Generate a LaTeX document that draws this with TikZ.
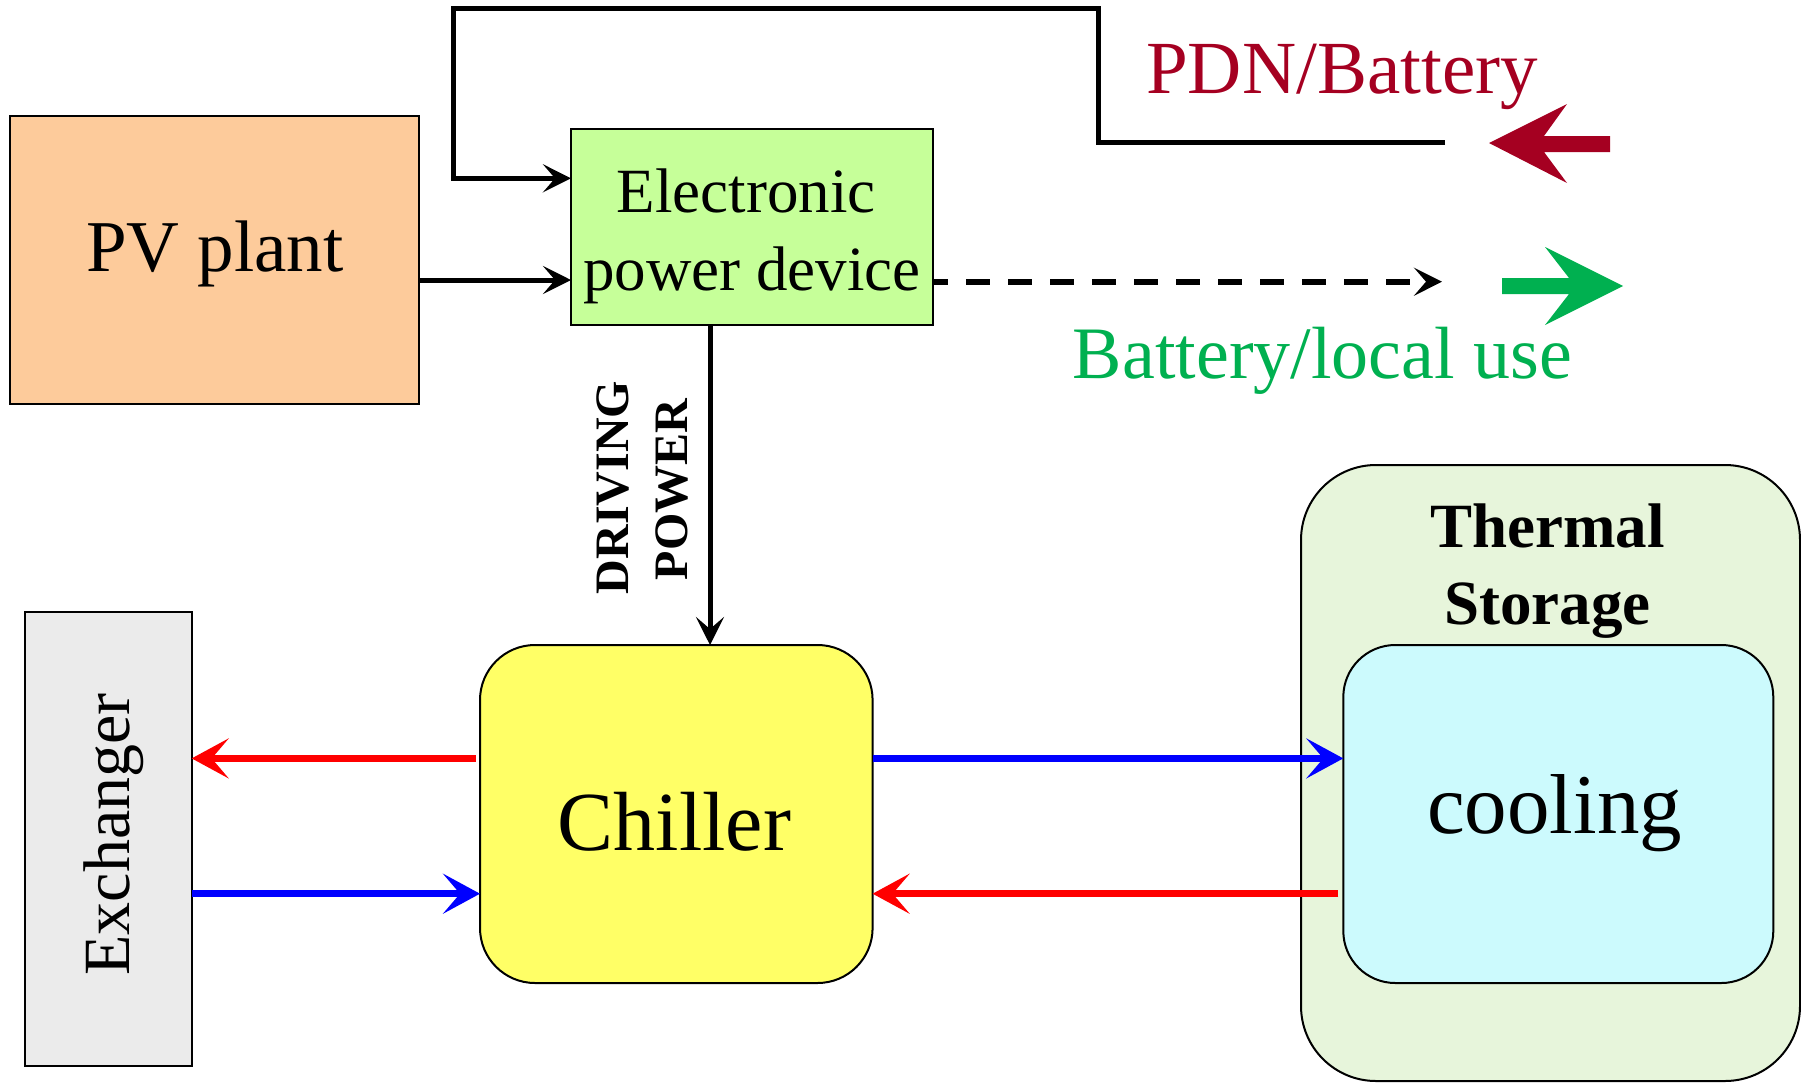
\documentclass[tikz,border=0pt]{standalone}
\usepackage{fontspec}
\setmainfont{Liberation Serif}
\usetikzlibrary{arrows.meta,calc}
\definecolor{pvfill}{HTML}{FDCB9B}
\definecolor{elecfill}{HTML}{C6FF99}
\definecolor{chillfill}{HTML}{FFFF66}
\definecolor{exchfill}{HTML}{EBEBEB}
\definecolor{thermfill}{HTML}{E7F5DB}
\definecolor{coolfill}{HTML}{CCFAFD}
\definecolor{pdnred}{HTML}{A50021}
\definecolor{locgreen}{HTML}{00B050}
\definecolor{hotred}{HTML}{FF0000}
\definecolor{coldblue}{HTML}{0000FF}
\newcommand{\fsz}[1]{\fontsize{#1}{#1}\selectfont}
\begin{document}
\begin{tikzpicture}[x=1pt,y=-1pt,
  box/.style={draw=black, line width=2pt, inner sep=0pt, outer sep=0pt},
  lbl/.style={inner sep=0pt, outer sep=0pt, anchor=base},
  blk/.style={line width=5pt, -{Stealth[length=28pt,width=28pt,inset=12pt]}},
  dsh/.style={line width=6pt, dash pattern=on 23.5pt off 18.5pt, dash phase=9pt, -{Stealth[length=28pt,width=28pt,inset=12pt]}},
  hot/.style={draw=hotred, line width=7.5pt, -{Stealth[length=37pt,width=40pt,inset=17pt]}},
  cold/.style={draw=coldblue, line width=7.5pt, -{Stealth[length=37pt,width=40pt,inset=17pt]}}]
\useasboundingbox (0,0) rectangle (1801,1082);

% boxes
\node[box, fill=pvfill, minimum width=408.7pt, minimum height=288pt] (pv) at (214.7,259.7) {};
\node[box, fill=elecfill, minimum width=362pt, minimum height=196.3pt] (elec) at (752,226.9) {};
\node[box, fill=exchfill, minimum width=167pt, minimum height=453.6pt] (exch) at (108.2,839.2) {};
\node[box, fill=chillfill, rounded corners=55pt, minimum width=392.6pt, minimum height=338pt] (chiller) at (676.3,814) {};
\node[box, fill=thermfill, rounded corners=75pt, minimum width=499pt, minimum height=616pt] (therm) at (1550.5,773) {};
\node[box, fill=coolfill, rounded corners=52pt, minimum width=430pt, minimum height=338pt] (cool) at (1558.3,814) {};

% texts
\node[lbl] (pvtxt) at (215,271) {\fsz{73}PV plant};
\node[lbl] (electxt1) at (746,212) {\fsz{63}Electronic};
\node[lbl] (electxt2) at (752,290) {\fsz{63}power device};
\node[lbl] (chilltxt) at (674.5,850) {\fsz{84}Chiller};
\node[lbl] (cooltxt) at (1554.5,833) {\fsz{85}cooling};
\node[lbl, rotate=90] (exchtxt) at (129,834.5) {\fsz{66}Exchanger};
\node[lbl] (thermtxt1) at (1547.5,547) {\fsz{63}\bfseries Thermal};
\node[lbl] (thermtxt2) at (1547.5,624) {\fsz{63}\bfseries Storage};
\node[lbl, rotate=90] (drvtxt1) at (628,487.5) {\fsz{48}\bfseries DRIVING};
\node[lbl, rotate=90] (drvtxt2) at (687,489.5) {\fsz{48}\bfseries POWER};
\node[lbl, text=pdnred] (pdntxt) at (1342,93) {\fsz{75}PDN/Battery};
\node[lbl, text=locgreen] (loctxt) at (1322.5,378) {\fsz{74}Battery/local use};

% black connectors
\coordinate (pdnend) at (1445,142);
\coordinate (dshend) at (1442,281.7);
\draw[blk] ([yshift=-20.3pt]pv.east) -- ([yshift=-20.3pt]pv.east -| elec.west);
\draw[blk] (pdnend) -- (1098,142) -- (1098,8) -- (453.5,8) |- ([yshift=48.6pt]elec.west);
\draw[dsh] ([yshift=-54.8pt]elec.east) -- (dshend);
\draw[blk] ([xshift=-42pt]elec.south) -- ([xshift=-42pt]elec.south |- chiller.north);

% water loops
\draw[hot] ([yshift=55.6pt,xshift=-4pt]chiller.west) -- ([yshift=55.6pt]chiller.west -| exch.east);
\draw[cold] ([yshift=-79.7pt]chiller.west -| exch.east) -- ([yshift=-79.7pt]chiller.west);
\draw[cold] ([yshift=55.6pt]chiller.east) -- ([yshift=55.6pt]chiller.east -| cool.west);
\draw[hot] ([yshift=-79.7pt,xshift=-5pt]cool.west) -- ([yshift=-79.7pt]cool.west -| chiller.east);

% big direction arrows
\fill[pdnred] (1489,143) -- (1567,104) -- (1544,136) -- (1610,136) -- (1610,152) -- (1544,152) -- (1567,183) -- cycle;
\fill[locgreen] (1623,286) -- (1545,247) -- (1569,278) -- (1502,278) -- (1502,294) -- (1569,294) -- (1545,325) -- cycle;
\end{tikzpicture}
\end{document}
